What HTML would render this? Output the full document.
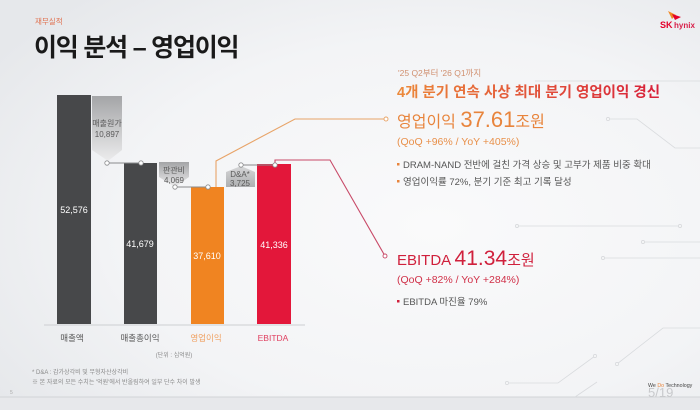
<!DOCTYPE html>
<html><head><meta charset="utf-8">
<style>
html,body{margin:0;padding:0;}
body{width:700px;height:410px;overflow:hidden;font-family:"Liberation Sans","Noto Sans CJK KR",sans-serif;}
svg{display:block;}
text{font-family:"Liberation Sans","Noto Sans CJK KR",sans-serif;}
</style></head>
<body>
<svg width="700" height="410" viewBox="0 0 700 410" xmlns="http://www.w3.org/2000/svg">
<defs>
<radialGradient id="bg" cx="0.62" cy="0.55" r="0.75">
<stop offset="0" stop-color="#fafafb"/>
<stop offset="0.6" stop-color="#f3f4f6"/>
<stop offset="1" stop-color="#e6e8eb"/>
</radialGradient>
<linearGradient id="cg" x1="0" y1="0" x2="0" y2="1">
<stop offset="0" stop-color="#a4a5a7"/>
<stop offset="1" stop-color="#ececed"/>
</linearGradient>
<linearGradient id="cg2" x1="0" y1="0" x2="0" y2="1">
<stop offset="0" stop-color="#d6d7d8"/>
<stop offset="1" stop-color="#aeafb1"/>
</linearGradient>
<linearGradient id="tg" x1="0" y1="0" x2="1" y2="0">
<stop offset="0" stop-color="#ec8a3a"/>
<stop offset="1" stop-color="#d8203a"/>
</linearGradient>
</defs>
<rect width="700" height="410" fill="url(#bg)"/>
<!-- bottom strip -->
<rect x="0" y="397" width="700" height="13" fill="#e7e8eb"/>
<line x1="0" y1="397" x2="700" y2="397" stroke="#d2d4d7" stroke-width="1"/>

<!-- decorative circuit lines -->
<g stroke="#d9dbde" stroke-width="0.8" fill="none">
<line x1="535" y1="81" x2="700" y2="81"/>
<path d="M608,119 H637 L675,148 H700"/>
<line x1="517" y1="226" x2="680" y2="226"/>
<line x1="643" y1="242" x2="700" y2="242"/>
<line x1="603" y1="258" x2="700" y2="258"/>
<path d="M507,383 H558 L595,356"/>
<path d="M617,364 L663,328 H700"/>
<path d="M575,397 L597,382"/>
</g>
<g fill="#f4f5f6" stroke="#d5d7da" stroke-width="0.7">
<circle cx="608" cy="119" r="1.6"/>
<circle cx="517" cy="226" r="1.6"/>
<circle cx="680" cy="226" r="1.6"/>
<circle cx="643" cy="242" r="1.6"/>
<circle cx="603" cy="258" r="1.6"/>
<circle cx="595" cy="356" r="1.6"/>
<circle cx="617" cy="364" r="1.6"/>
<circle cx="507" cy="383" r="1.6"/>
</g>

<!-- header -->
<text x="35" y="24" font-size="7.5" fill="#e0704e">재무실적</text>
<text x="34" y="56" font-size="25" font-weight="700" letter-spacing="-1.2" fill="#1a1a1a">이익 분석 – 영업이익</text>

<!-- logo -->
<path d="M668,11 L676,15 L672,19 Z" fill="#f08a24"/>
<path d="M672,14 L681,17 L675,20 Z" fill="#e4002b"/>
<text x="660" y="28" font-size="9" font-weight="700" fill="#e4002b">SK</text>
<text x="674" y="28" font-size="8" font-weight="700" fill="#d8204a">hynix</text>

<!-- baseline -->
<line x1="44" y1="325" x2="305" y2="325" stroke="#cdcfd2" stroke-width="1"/>

<!-- bars -->
<rect x="57" y="95" width="34" height="229" fill="#47484a"/>
<rect x="124" y="163" width="33" height="161" fill="#47484a"/>
<rect x="191" y="187" width="33" height="137" fill="#f08421"/>
<rect x="257" y="164" width="34" height="160" fill="#e3173a"/>

<!-- callouts -->
<path d="M92,96 H122 V150 L108,161 L92,150 Z" fill="url(#cg)"/>
<path d="M159,162 H189 V177 L175,187 L159,177 Z" fill="url(#cg)"/>
<path d="M226,172 L241,166 L255,172 V187 H226 Z" fill="url(#cg2)"/>

<g font-size="8" fill="#5a5a5a" text-anchor="middle">
<text x="107" y="126">매출원가</text>
<text x="107" y="137">10,897</text>
<text x="174" y="173">판관비</text>
<text x="174" y="183">4,069</text>
<text x="240" y="177">D&amp;A*</text>
<text x="240" y="186">3,725</text>
</g>

<!-- connectors -->
<path d="M216,187 V161 L295,119 H386" stroke="#e8a468" stroke-width="1.1" fill="none"/>
<path d="M275,164 V160 H330 L385,256" stroke="#c84a68" stroke-width="1.1" fill="none"/>
<g stroke="#8a8b8d" stroke-width="1" fill="none">
<line x1="107" y1="163" x2="141" y2="163"/>
<line x1="175" y1="187" x2="208" y2="187"/>
<line x1="241" y1="165" x2="275" y2="165"/>
</g>
<g fill="#ffffff" stroke="#8a8b8d" stroke-width="0.8">
<circle cx="107" cy="163" r="2.2"/>
<circle cx="141" cy="163" r="2.2"/>
<circle cx="175" cy="187" r="2.2"/>
<circle cx="208" cy="187" r="2.2"/>
<circle cx="241" cy="165" r="2.2"/>
<circle cx="275" cy="165" r="2.2"/>
</g>
<circle cx="386" cy="119" r="2" fill="#fff" stroke="#e8a468" stroke-width="0.9"/>
<circle cx="385" cy="256" r="2" fill="#fff" stroke="#c84a68" stroke-width="0.9"/>

<!-- bar values -->
<g font-size="9" fill="#ffffff" text-anchor="middle">
<text x="74" y="213">52,576</text>
<text x="140" y="247">41,679</text>
<text x="207" y="259">37,610</text>
<text x="274" y="248">41,336</text>
</g>

<!-- category labels -->
<g font-size="8.5" text-anchor="middle">
<text x="72" y="341" fill="#555">매출액</text>
<text x="140" y="341" fill="#555">매출총이익</text>
<text x="206" y="341" fill="#f0a060">영업이익</text>
<text x="273" y="341" fill="#e04060">EBITDA</text>
</g>
<text x="174" y="357" font-size="6" fill="#8a8a8a" text-anchor="middle">(단위 : 십억원)</text>
<text x="32" y="374" font-size="6" fill="#8a8a8a">* D&amp;A : 감가상각비 및 무형자산상각비</text>
<text x="32" y="384" font-size="6" fill="#8a8a8a">※ 본 자료의 모든 수치는 '억원'에서 반올림하여 일부 단수 차이 발생</text>
<text x="10" y="394" font-size="5" fill="#aaaaaa">5</text>

<!-- right text -->
<text x="398" y="76" font-size="8.5" fill="#d09070">'25 Q2부터 '26 Q1까지</text>
<text x="397" y="97" font-size="14.5" font-weight="700" fill="url(#tg)">4개 분기 연속 사상 최대 분기 영업이익 경신</text>

<text x="397" y="127" fill="#e8843c"><tspan font-size="16">영업이익 </tspan><tspan font-size="22">37.61</tspan><tspan font-size="16">조원</tspan></text>
<text x="397" y="145" font-size="10.5" fill="#e8904a">(QoQ +96% / YoY +405%)</text>
<rect x="397" y="163" width="2.5" height="2.5" fill="#e8843c"/>
<text x="403" y="168" font-size="9.5" fill="#555">DRAM-NAND 전반에 걸친 가격 상승 및 고부가 제품 비중 확대</text>
<rect x="397" y="180" width="2.5" height="2.5" fill="#e8843c"/>
<text x="403" y="185" font-size="9.5" fill="#555">영업이익률 72%, 분기 기준 최고 기록 달성</text>

<text x="397" y="265" fill="#d0203c"><tspan font-size="15">EBITDA </tspan><tspan font-size="21">41.34</tspan><tspan font-size="15">조원</tspan></text>
<text x="397" y="283" font-size="10.5" fill="#d03048">(QoQ +82% / YoY +284%)</text>
<rect x="397" y="300" width="2.5" height="2.5" fill="#d0203c"/>
<text x="403" y="305" font-size="9.5" fill="#555">EBITDA 마진율 79%</text>

<!-- bottom right logo -->
<text x="648" y="397" font-size="13" fill="#c8c9cc">5/19</text>
<text x="648" y="387" font-size="5.3" fill="#444">We <tspan fill="#e8843c">Do</tspan> Technology</text>
</svg>
</body></html>
